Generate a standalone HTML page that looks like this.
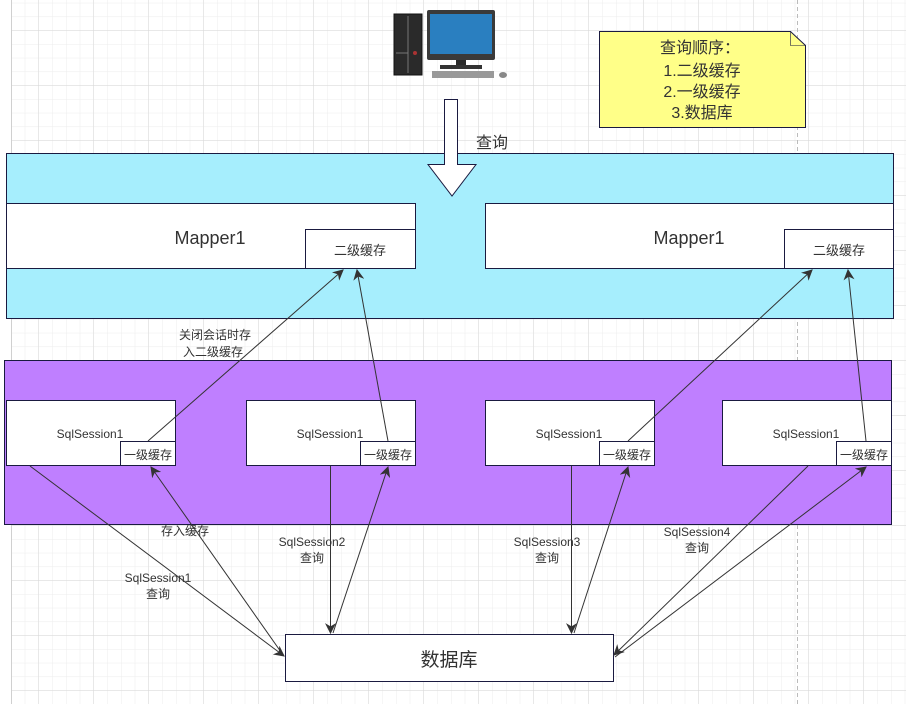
<!DOCTYPE html>
<html><head><meta charset="utf-8"><style>
html,body{margin:0;padding:0;background:#fff;}
svg{display:block;}
text{font-family:"Liberation Sans","Noto Sans CJK SC",sans-serif;fill:#333;}
</style></head><body>
<svg width="906" height="704" viewBox="0 0 906 704" xmlns="http://www.w3.org/2000/svg">
<defs>
<pattern id="minor" x="11" y="2.8" width="13.75" height="13.75" patternUnits="userSpaceOnUse">
<path d="M0 0V13.75M0 0H13.75" stroke="#ececec" stroke-width="1" fill="none"/>
</pattern>
<pattern id="major" x="38.3" y="30.3" width="55" height="55" patternUnits="userSpaceOnUse">
<path d="M0 0V55M0 0H55" stroke="#d9d9d9" stroke-width="1" fill="none"/>
</pattern>
<marker id="ahb" viewBox="0 0 10 10" refX="9" refY="5" markerWidth="11" markerHeight="11" orient="auto" markerUnits="userSpaceOnUse">
<path d="M0 0L10 5L0 10L3 5Z" fill="#333"/>
</marker>
</defs>
<rect x="11" y="0" width="895" height="704" fill="url(#minor)"/>
<rect x="11" y="0" width="895" height="704" fill="url(#major)"/>
<line x1="11.5" y1="0" x2="11.5" y2="704" stroke="#d0d0d0"/>
<line x1="797.5" y1="0" x2="797.5" y2="704" stroke="#bbb" stroke-dasharray="4,3"/>

<!-- computer -->
<rect x="394" y="14" width="28" height="61" fill="#2a2a2a" stroke="#111"/>
<line x1="408" y1="16" x2="408" y2="73" stroke="#777"/>
<line x1="396" y1="53" x2="408" y2="53" stroke="#777"/>
<circle cx="415" cy="53" r="2" fill="#a33"/>
<rect x="427" y="10" width="68" height="50" rx="2" fill="#3a3a3a"/>
<rect x="430" y="14" width="62" height="40" fill="#2a7fc0"/>
<rect x="456" y="60" width="10" height="6" fill="#2a2a2a"/>
<rect x="440" y="65" width="42" height="4" fill="#333"/>
<rect x="432" y="71" width="62" height="7" fill="#999"/>
<ellipse cx="503" cy="75" rx="4" ry="3" fill="#888"/>

<!-- cyan band -->
<rect x="6.5" y="153.5" width="887" height="165" fill="#a6eefd" stroke="#1a1a40"/>
<rect x="6.5" y="203.5" width="409" height="65" fill="#fff" stroke="#1a1a40"/>
<rect x="305.5" y="229.5" width="110" height="39" fill="#fff" stroke="#1a1a40"/>
<text x="210" y="244" font-size="18" text-anchor="middle">Mapper1</text>
<text x="360" y="255" font-size="13" text-anchor="middle">二级缓存</text>
<rect x="485.5" y="203.5" width="408" height="65" fill="#fff" stroke="#1a1a40"/>
<rect x="784.5" y="229.5" width="109" height="39" fill="#fff" stroke="#1a1a40"/>
<text x="689" y="244" font-size="18" text-anchor="middle">Mapper1</text>
<text x="839" y="255" font-size="13" text-anchor="middle">二级缓存</text>

<!-- big arrow -->
<path d="M444.5 99.5H457.5V164.5H476L452 196L428 164.5H444.5Z" fill="#fff" stroke="#1a1a40"/>
<text x="492" y="148" font-size="16" text-anchor="middle">查询</text>

<!-- note -->
<path d="M599.5 31.5H790.5L805.5 45.5V127.5H599.5Z" fill="#ffff88" stroke="#1a1a40"/>
<path d="M790.5 31.5V45.5H805.5" fill="none" stroke="#1a1a40" stroke-width="0.6"/>
<text font-size="16" text-anchor="middle"><tspan x="700" y="53">查询顺序：</tspan><tspan x="702" y="76">1.二级缓存</tspan><tspan x="702" y="97">2.一级缓存</tspan><tspan x="702" y="118">3.数据库</tspan></text>

<!-- purple band -->
<rect x="4.5" y="360.5" width="887" height="164" fill="#bf7fff" stroke="#1a1a40"/>
<g stroke="#1a1a40" fill="#fff">
<rect x="6.5" y="400.5" width="169" height="65"/><rect x="120.5" y="441.5" width="55" height="24"/>
<rect x="246.5" y="400.5" width="169" height="65"/><rect x="360.5" y="441.5" width="55" height="24"/>
<rect x="485.5" y="400.5" width="169" height="65"/><rect x="599.5" y="441.5" width="55" height="24"/>
<rect x="722.5" y="400.5" width="169" height="65"/><rect x="836.5" y="441.5" width="55" height="24"/>
</g>
<g font-size="12" text-anchor="middle">
<text x="90" y="438">SqlSession1</text><text x="148" y="459">一级缓存</text>
<text x="330" y="438">SqlSession1</text><text x="388" y="459">一级缓存</text>
<text x="569" y="438">SqlSession1</text><text x="627" y="459">一级缓存</text>
<text x="806" y="438">SqlSession1</text><text x="864" y="459">一级缓存</text>
</g>

<!-- DB -->
<rect x="285.5" y="634.5" width="328" height="47" fill="#fff" stroke="#1a1a40"/>
<text x="449" y="666" font-size="19" text-anchor="middle">数据库</text>

<!-- connectors -->
<g stroke="#333" stroke-width="1" fill="none">
<line x1="30" y1="466" x2="284" y2="656" marker-end="url(#ahb)"/>
<line x1="281" y1="652" x2="151" y2="467" marker-end="url(#ahb)"/>
<line x1="148" y1="441" x2="343" y2="270" marker-end="url(#ahb)"/>
<line x1="330.5" y1="466" x2="330.5" y2="633" marker-end="url(#ahb)"/>
<line x1="333" y1="633" x2="388" y2="467" marker-end="url(#ahb)"/>
<line x1="388" y1="441" x2="357" y2="270" marker-end="url(#ahb)"/>
<line x1="571.5" y1="466" x2="571.5" y2="633" marker-end="url(#ahb)"/>
<line x1="574" y1="633" x2="628" y2="467" marker-end="url(#ahb)"/>
<line x1="628" y1="441" x2="812" y2="270" marker-end="url(#ahb)"/>
<line x1="808" y1="466" x2="614" y2="655" marker-end="url(#ahb)"/>
<line x1="615" y1="657" x2="866" y2="467" marker-end="url(#ahb)"/>
<line x1="866" y1="441" x2="848" y2="270" marker-end="url(#ahb)"/>
</g>

<!-- labels -->
<g font-size="12" text-anchor="middle">
<text x="215" y="339">关闭会话时存</text><text x="213" y="356">入二级缓存</text>
<text x="185" y="535">存入缓存</text>
<text x="158" y="582">SqlSession1</text><text x="158" y="598">查询</text>
<text x="312" y="546">SqlSession2</text><text x="312" y="562">查询</text>
<text x="547" y="546">SqlSession3</text><text x="547" y="562">查询</text>
<text x="697" y="536">SqlSession4</text><text x="697" y="552">查询</text>
</g>
</svg>
</body></html>
